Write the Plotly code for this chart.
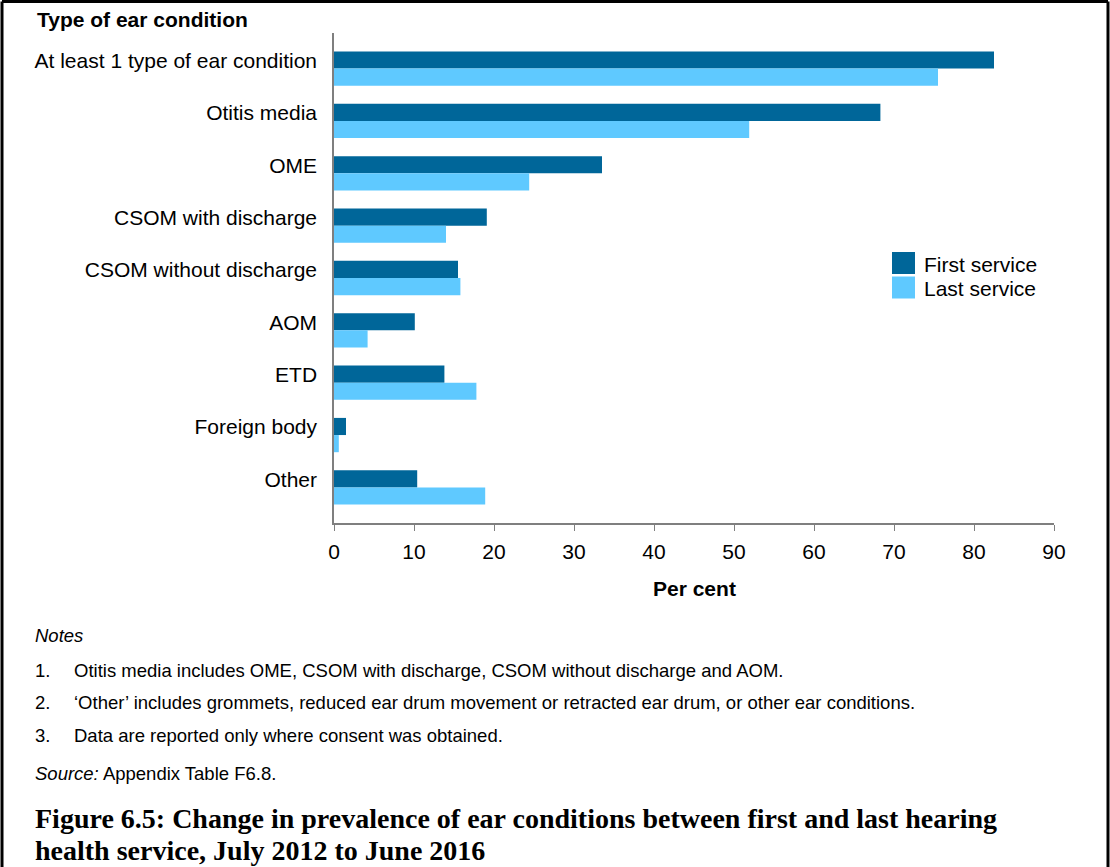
"""Grouped horizontal bar chart: ear conditions at first and last service."""

import plotly.graph_objects as go

# data (per cent)
categories = [
    "At least 1 type of ear condition",
    "Otitis media",
    "OME",
    "CSOM with discharge",
    "CSOM without discharge",
    "AOM",
    "ETD",
    "Foreign body",
    "Other",
]
first_service = [82.5, 68.3, 33.5, 19.1, 15.5, 10.1, 13.8, 1.5, 10.4]
last_service = [75.5, 51.9, 24.4, 14.0, 15.8, 4.2, 17.8, 0.6, 18.9]
series_names = ["First service", "Last service"]
series_colors = ["#006699", "#5FC9FF"]
x_ticks = [0, 10, 20, 30, 40, 50, 60, 70, 80, 90]

notes = [
    "Otitis media includes OME, CSOM with discharge, CSOM without discharge and AOM.",
    "\u2018Other\u2019 includes grommets, reduced ear drum movement or retracted ear drum, or other ear conditions.",
    "Data are reported only where consent was obtained.",
]
caption_lines = [
    "Figure 6.5: Change in prevalence of ear conditions between first and last hearing",
    "health service, July 2012 to June 2016",
]

W, H = 1110, 867
L, R, T, B = 334, 56, 33, 344
PW, PH = W - L - R, H - T - B

SANS = "Liberation Sans, Arial, sans-serif"
SERIF = "Liberation Serif, Times New Roman, serif"
FS = 21       # chart text size
NOTE_FS = 18.5


def fx(px):
    """Pixel x -> paper x."""
    return (px - L) / PW


def fy(py):
    """Pixel y -> paper y."""
    return (H - B - py) / PH


fig = go.Figure()
for name, vals, col in zip(series_names, [first_service, last_service], series_colors):
    fig.add_trace(
        go.Bar(
            y=categories,
            x=vals,
            name=name,
            orientation="h",
            marker={"color": col, "line": {"width": 0}},
            showlegend=False,
        )
    )

fig.update_layout(
    width=W,
    height=H,
    margin={"l": L, "r": R, "t": T, "b": B},
    paper_bgcolor="white",
    plot_bgcolor="white",
    barmode="group",
    bargap=0.345,
    bargroupgap=0,
    font={"family": SANS, "size": FS, "color": "black"},
)
fig.update_xaxes(
    range=[0, 90],
    tickvals=x_ticks,
    showgrid=False,
    zeroline=False,
    showline=True,
    linecolor="#7f7f7f",
    linewidth=1.5,
    ticks="outside",
    ticklen=6,
    tickcolor="#7f7f7f",
    ticklabelstandoff=3,
    tickfont={"size": FS},
)
fig.update_yaxes(
    range=[len(categories) - 0.32, -0.68],
    showgrid=False,
    zeroline=False,
    showline=True,
    linecolor="#7f7f7f",
    linewidth=1.5,
    ticks="",
    ticklabelstandoff=11,
    ticklabelshift=8,
    tickfont={"size": FS},
)

ann = []
shapes = []

# axis titles
ann.append(dict(x=fx(35), y=fy(20), text="<b>Type of ear condition</b>",
                xanchor="left", yanchor="middle", font={"size": FS}))
ann.append(dict(x=0.5, y=fy(588), text="<b>Per cent</b>",
                xanchor="center", yanchor="middle", font={"size": FS}))

# legend
for i, (name, col) in enumerate(zip(series_names, series_colors)):
    top = 252 + i * 24.5
    shapes.append(dict(type="rect", xref="paper", yref="paper",
                       x0=fx(892), x1=fx(915), y0=fy(top + 22), y1=fy(top),
                       fillcolor=col, line={"width": 0}))
    ann.append(dict(x=fx(922), y=fy(top + 12), text=name, xanchor="left",
                    yanchor="middle", font={"size": FS}))

# notes
ann.append(dict(x=fx(33), y=fy(636), text="<i>Notes</i>", xanchor="left",
                yanchor="middle", font={"size": NOTE_FS}))
for i, note in enumerate(notes):
    yy = fy(670 + i * 32.5)
    ann.append(dict(x=fx(33), y=yy, text=f"{i + 1}.", xanchor="left",
                    yanchor="middle", font={"size": NOTE_FS}))
    ann.append(dict(x=fx(72), y=yy, text=note, xanchor="left",
                    yanchor="middle", font={"size": NOTE_FS}))
ann.append(dict(x=fx(33), y=fy(773), text="<i>Source:</i> Appendix Table F6.8.",
                xanchor="left", yanchor="middle", font={"size": NOTE_FS}))

# figure caption
for i, line in enumerate(caption_lines):
    ann.append(dict(x=fx(33), y=fy(818 + i * 32), text=f"<b>{line}</b>",
                    xanchor="left", yanchor="middle",
                    font={"family": SERIF, "size": 28}))

for a in ann:
    a.update(xref="paper", yref="paper", showarrow=False)

# frame around the figure (no bottom edge)
frame = [(2, H, 2, 1.5), (2, 1.5, W - 2, 1.5), (W - 2, 1.5, W - 2, H)]
for x0, y0, x1, y1 in frame:
    shapes.append(dict(type="line", xref="paper", yref="paper",
                       x0=fx(x0), y0=fy(y0), x1=fx(x1), y1=fy(y1),
                       line={"color": "black", "width": 3}))

fig.update_layout(annotations=ann, shapes=shapes)

# drop the browser's default page margin so the figure sits at 0,0
fig.write_html(
    "out.html",
    config={"displayModeBar": False},
    post_script="document.body.style.margin='0';",
)
